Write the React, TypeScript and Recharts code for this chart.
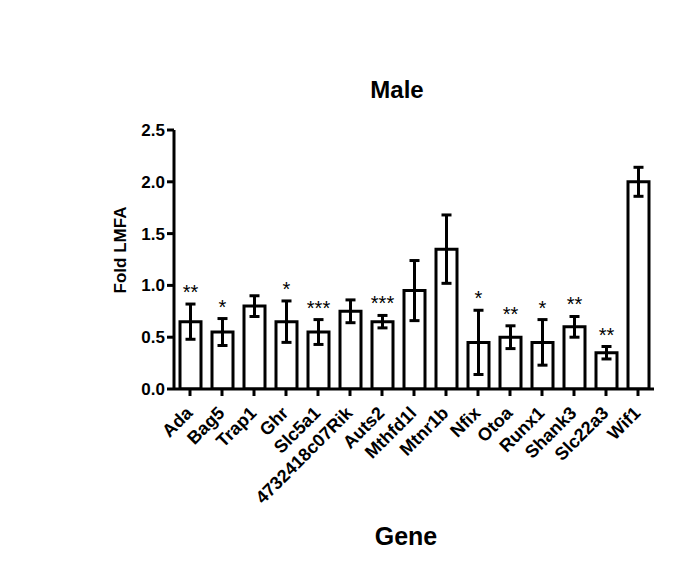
import React from 'react';
import { BarChart, Bar, XAxis, YAxis, ErrorBar, LabelList } from 'recharts';

const genes = ['Ada', 'Bag5', 'Trap1', 'Ghr', 'Slc5a1', '4732418c07Rik', 'Auts2', 'Mthfd1l', 'Mtnr1b', 'Nfix', 'Otoa', 'Runx1', 'Shank3', 'Slc22a3', 'Wif1'];
const means = [0.65, 0.55, 0.80, 0.65, 0.55, 0.75, 0.65, 0.95, 1.35, 0.45, 0.50, 0.45, 0.60, 0.35, 2.00];
const sems = [0.17, 0.13, 0.10, 0.20, 0.12, 0.11, 0.06, 0.29, 0.33, 0.31, 0.11, 0.22, 0.10, 0.06, 0.14];
const stars = ['**', '*', '', '*', '***', '', '***', '', '', '*', '**', '*', '**', '**', ''];
const yTicks = [0, 0.5, 1.0, 1.5, 2.0, 2.5];

const data = genes.map((g, i) => ({ gene: g, mean: means[i], sem: sems[i], star: stars[i] }));

const FONT = '"Liberation Sans", Arial, Helvetica, sans-serif';

const XTick = (props: any) => {
  const { x, y, payload } = props;
  return (
    <g transform={`translate(${x},${y})`}>
      <text
        x={-9}
        y={0}
        dy={14}
        textAnchor="end"
        transform="rotate(-45)"
        fontFamily={FONT}
        fontWeight="bold"
        fontSize={18}
        fill="#000"
      >
        {payload.value}
      </text>
    </g>
  );
};

const StarLabel = (props: any) => {
  const { x, y, width, height, index } = props;
  const s = stars[index];
  if (!s) return null;
  const m = means[index];
  const pxPerUnit = m ? height / m : 0;
  const errTop = y - sems[index] * pxPerUnit;
  return (
    <text
      x={x + width / 2}
      y={errTop - 5}
      textAnchor="middle"
      fontFamily={FONT}
      fontSize={20}
      fill="#000"
    >
      {s}
    </text>
  );
};

export default function App() {
  return (
    <div style={{ position: 'absolute', left: 0, top: 0, width: 685, height: 586, background: '#fff' }}>
      <BarChart
        width={685}
        height={586}
        data={data}
        margin={{ top: 130, right: 31, bottom: 47, left: 114 }}
      >
        <XAxis
          dataKey="gene"
          interval={0}
          height={150}
          tick={<XTick />}
          tickSize={7}
          tickLine={{ stroke: '#000', strokeWidth: 3 }}
          axisLine={{ stroke: '#000', strokeWidth: 3 }}
        />
        <YAxis
          width={60}
          domain={[0, 2.5]}
          ticks={yTicks}
          tickFormatter={(v: number) => v.toFixed(1)}
          tickSize={7}
          tickMargin={2}
          tick={{ fill: '#000', fontFamily: FONT, fontWeight: 'bold', fontSize: 17 }}
          tickLine={{ stroke: '#000', strokeWidth: 3 }}
          axisLine={{ stroke: '#000', strokeWidth: 3 }}
          allowDataOverflow
        />
        <Bar
          dataKey="mean"
          barSize={21}
          fill="#fff"
          stroke="#000"
          strokeWidth={3}
          isAnimationActive={false}
        >
          <ErrorBar dataKey="sem" width={5} stroke="#000" strokeWidth={3} direction="y" />
          <LabelList dataKey="star" content={<StarLabel />} />
        </Bar>
        <text x={397} y={98} textAnchor="middle" fontFamily={FONT} fontWeight="bold" fontSize={24} fill="#000">
          Male
        </text>
        <text x={406} y={545} textAnchor="middle" fontFamily={FONT} fontWeight="bold" fontSize={25} fill="#000">
          Gene
        </text>
        <text
          x={126}
          y={250}
          textAnchor="middle"
          transform="rotate(-90, 126, 250)"
          fontFamily={FONT}
          fontWeight="bold"
          fontSize={17}
          fill="#000"
        >
          Fold LMFA
        </text>
      </BarChart>
    </div>
  );
}
